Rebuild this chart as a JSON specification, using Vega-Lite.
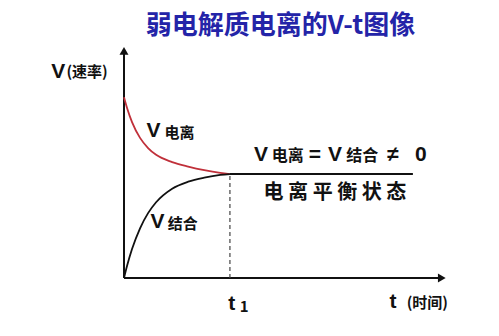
{
  "$schema": "https://vega.github.io/schema/vega-lite/v6.json",
  "width": 321,
  "height": 226,
  "autosize": {"type": "none"},
  "padding": {"left": 124, "top": 52, "right": 54, "bottom": 58},
  "background": "white",
  "title": {
    "text": "弱电解质电离的V-t图像",
    "font": "Noto Sans CJK SC",
    "fontSize": 26,
    "fontWeight": "bold",
    "color": "#2424a8",
    "anchor": "middle",
    "offset": 8,
    "dx": -4
  },
  "config": {"view": {"stroke": null}},
  "datasets": {
    "red": [
      {"t": 0, "v": 8.0}, {"t": 0.1, "v": 7.5}, {"t": 0.25, "v": 6.9}, {"t": 0.5, "v": 6.2},
      {"t": 0.75, "v": 5.75}, {"t": 1.0, "v": 5.45}, {"t": 1.5, "v": 5.13}, {"t": 2.0, "v": 4.93},
      {"t": 2.5, "v": 4.77}, {"t": 3.0, "v": 4.65}, {"t": 3.3, "v": 4.6}
    ],
    "black": [
      {"t": 0, "v": 0}, {"t": 0.1, "v": 0.56}, {"t": 0.25, "v": 1.28}, {"t": 0.5, "v": 2.2},
      {"t": 0.75, "v": 2.87}, {"t": 1.0, "v": 3.35}, {"t": 1.5, "v": 3.95}, {"t": 2.0, "v": 4.26},
      {"t": 2.5, "v": 4.44}, {"t": 3.0, "v": 4.56}, {"t": 3.3, "v": 4.6}
    ],
    "flat": [{"t": 3.3, "v": 4.6}, {"t": 9.0, "v": 4.6}],
    "axes": [
      {"x1": 0, "y1": 0, "x2": 0, "y2": 10},
      {"x1": 0, "y1": 0, "x2": 9.9, "y2": 0}
    ],
    "arrows": [
      {"t": 0, "v": 10.05, "shape": "triangle-up"},
      {"t": 9.9, "v": 0, "shape": "triangle-right"}
    ],
    "dash": [{"t": 3.3, "v1": 0, "v2": 4.6}],
    "bigText": [
      {"t": -2.05, "v": 9.12, "label": "V"},
      {"t": 0.92, "v": 6.5, "label": "V"},
      {"t": 1.04, "v": 2.5, "label": "V"},
      {"t": 4.27, "v": 5.44, "label": "V"},
      {"t": 6.57, "v": 5.44, "label": "V"},
      {"t": 8.38, "v": 5.44, "label": "≠"},
      {"t": 9.25, "v": 5.44, "label": "0"},
      {"t": 5.95, "v": 5.44, "label": "="},
      {"t": 3.36, "v": -1.15, "label": "t"},
      {"t": 8.38, "v": -1.05, "label": "t"}
    ],
    "smallText": [
      {"t": -1.15, "v": 9.1, "label": "(速率)", "size": 15},
      {"t": 1.73, "v": 6.4, "label": "电离", "size": 15},
      {"t": 1.83, "v": 2.4, "label": "结合", "size": 15},
      {"t": 5.1, "v": 5.4, "label": "电离", "size": 16},
      {"t": 7.42, "v": 5.4, "label": "结合", "size": 16},
      {"t": 3.74, "v": -1.28, "label": "1", "size": 15},
      {"t": 9.45, "v": -1.1, "label": "(时间)", "size": 15}
    ],
    "midText": [
      {"t": 6.57, "v": 3.76, "label": "电 离 平 衡 状 态"}
    ]
  },
  "layer": [
    {
      "data": {"name": "axes"},
      "mark": {"type": "rule", "color": "#111111", "strokeWidth": 2},
      "encoding": {
        "x": {"field": "x1", "type": "quantitative", "scale": {"domain": [0, 10]}, "axis": null},
        "x2": {"field": "x2"},
        "y": {"field": "y1", "type": "quantitative", "scale": {"domain": [0, 10]}, "axis": null},
        "y2": {"field": "y2"}
      }
    },
    {
      "data": {"name": "arrows"},
      "mark": {"type": "point", "filled": true, "color": "#111111", "size": 80, "opacity": 1},
      "encoding": {
        "x": {"field": "t", "type": "quantitative"},
        "y": {"field": "v", "type": "quantitative"},
        "shape": {"field": "shape", "type": "nominal", "scale": null, "legend": null}
      }
    },
    {
      "data": {"name": "dash"},
      "mark": {"type": "rule", "color": "#444444", "strokeWidth": 1.2, "strokeDash": [4, 3]},
      "encoding": {
        "x": {"field": "t", "type": "quantitative"},
        "y": {"field": "v1", "type": "quantitative"},
        "y2": {"field": "v2"}
      }
    },
    {
      "data": {"name": "red"},
      "mark": {"type": "line", "color": "#c0303a", "strokeWidth": 1.8, "interpolate": "monotone"},
      "encoding": {
        "x": {"field": "t", "type": "quantitative"},
        "y": {"field": "v", "type": "quantitative"}
      }
    },
    {
      "data": {"name": "black"},
      "mark": {"type": "line", "color": "#111111", "strokeWidth": 1.8, "interpolate": "monotone"},
      "encoding": {
        "x": {"field": "t", "type": "quantitative"},
        "y": {"field": "v", "type": "quantitative"}
      }
    },
    {
      "data": {"name": "flat"},
      "mark": {"type": "line", "color": "#111111", "strokeWidth": 2},
      "encoding": {
        "x": {"field": "t", "type": "quantitative"},
        "y": {"field": "v", "type": "quantitative"}
      }
    },
    {
      "data": {"name": "bigText"},
      "mark": {"type": "text", "font": "Liberation Sans", "fontSize": 21, "fontWeight": "bold", "color": "#111111", "align": "center", "baseline": "middle"},
      "encoding": {
        "x": {"field": "t", "type": "quantitative"},
        "y": {"field": "v", "type": "quantitative"},
        "text": {"field": "label"}
      }
    },
    {
      "data": {"name": "smallText"},
      "mark": {"type": "text", "font": "Noto Sans CJK SC", "fontWeight": "bold", "color": "#111111", "align": "center", "baseline": "middle"},
      "encoding": {
        "x": {"field": "t", "type": "quantitative"},
        "y": {"field": "v", "type": "quantitative"},
        "text": {"field": "label"},
        "size": {"field": "size", "type": "quantitative", "scale": null, "legend": null}
      }
    },
    {
      "data": {"name": "midText"},
      "mark": {"type": "text", "font": "Noto Sans CJK SC", "fontSize": 20, "fontWeight": "bold", "color": "#111111", "align": "center", "baseline": "middle"},
      "encoding": {
        "x": {"field": "t", "type": "quantitative"},
        "y": {"field": "v", "type": "quantitative"},
        "text": {"field": "label"}
      }
    }
  ]
}
